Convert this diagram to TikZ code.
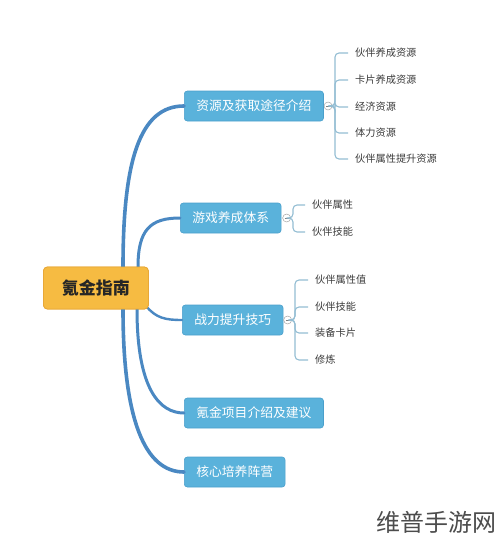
\documentclass[tikz,border=0pt]{standalone}
\usepackage{fontspec}
\setmainfont{Noto Sans CJK SC}
\usepackage{tikz}
\usetikzlibrary{positioning}

\definecolor{boxblue}{HTML}{5AB2DB}
\definecolor{boxedge}{HTML}{4A9FCB}
\definecolor{rootfill}{HTML}{F6BB42}
\definecolor{rootedge}{HTML}{E8A838}
\definecolor{trunk}{HTML}{4A88C2}
\definecolor{twig}{HTML}{93BDD3}
\definecolor{leaftext}{HTML}{3A3A3A}

\tikzset{
  rootbox/.style={draw=rootedge, fill=rootfill, rounded corners=4pt, line width=0.8pt,
    minimum height=42pt, inner xsep=18.5pt, inner ysep=0pt, anchor=west,
    text=black!85, font=\fontsize{17}{17}\selectfont\bfseries},
  topic/.style={draw=boxedge, fill=boxblue, rounded corners=3pt, line width=0.6pt,
    minimum height=30pt, inner xsep=12pt, inner ysep=0pt, anchor=west,
    text=white, font=\fontsize{12.8}{13}\selectfont},
  fold/.style={circle, draw=gray!70, fill=white, line width=0.5pt, minimum size=8pt, inner sep=0pt,
    path picture={\draw[gray] ([xshift=-2pt]path picture bounding box.center) -- ([xshift=2pt]path picture bounding box.center);}},
  leaf/.style={anchor=west, inner xsep=7pt, inner ysep=1pt, text=leaftext, font=\fontsize{10.2}{11}\selectfont},
  branch/.style={draw=trunk, line cap=round},
  twigline/.style={draw=twig, line width=1.1pt, rounded corners=4pt}
}

\begin{document}
\begin{tikzpicture}[x=1pt, y=-1pt]
\useasboundingbox (0,0) rectangle (500,541);

\node[rootbox] (root) at (43,288) {氪金指南};
\node[topic] (b1) at (184,106) {资源及获取途径介绍};
\node[topic] (b2) at (180,218) {游戏养成体系};
\node[topic] (b3) at (182,320) {战力提升技巧};
\node[topic] (b4) at (184,413) {氪金项目介绍及建议};
\node[topic] (b5) at (184,472) {核心培养阵营};

\draw[branch, line width=3.6pt] (123,267) .. controls (123,160) and (140,106) .. (b1.west);
\draw[branch, line width=3pt] (138,267) .. controls (138,230) and (150,218) .. (b2.west);
\draw[branch, line width=2.4pt] (146,306) .. controls (156,318) and (165,320) .. (b3.west);
\draw[branch, line width=3pt] (137,309) .. controls (137,390) and (160,413) .. (b4.west);
\draw[branch, line width=3.6pt] (123,309) .. controls (123,420) and (145,472) .. (b5.west);
\node[rootbox] at (root.west) {氪金指南};

\node[fold, right=0pt of b1] (c1) {};
\node[fold, right=1pt of b2] (c2) {};
\node[fold, right=0pt of b3] (c3) {};

\node[leaf] (l11) at (348,53) {伙伴养成资源};
\node[leaf] (l12) at (348,80) {卡片养成资源};
\node[leaf] (l13) at (348,107) {经济资源};
\node[leaf] (l14) at (348,133) {体力资源};
\node[leaf] (l15) at (348,159) {伙伴属性提升资源};
\foreach \l in {l11,l12,l13,l14,l15}
  \draw[twigline] (c1.east) -- (335,106) |- (\l.west);

\node[leaf] (l21) at (305,205) {伙伴属性};
\node[leaf] (l22) at (305,232) {伙伴技能};
\foreach \l in {l21,l22}
  \draw[twigline] (c2.east) -- (293,218) |- (\l.west);

\node[leaf] (l31) at (308,280) {伙伴属性值};
\node[leaf] (l32) at (308,307) {伙伴技能};
\node[leaf] (l33) at (308,333) {装备卡片};
\node[leaf] (l34) at (308,360) {修炼};
\foreach \l in {l31,l32,l33,l34}
  \draw[twigline] (c3.east) -- (295,320) |- (\l.west);

\node[text=black!70, font=\fontsize{24}{24}\selectfont] (mark) at (436,522) {维普手游网};
\end{tikzpicture}
\end{document}
